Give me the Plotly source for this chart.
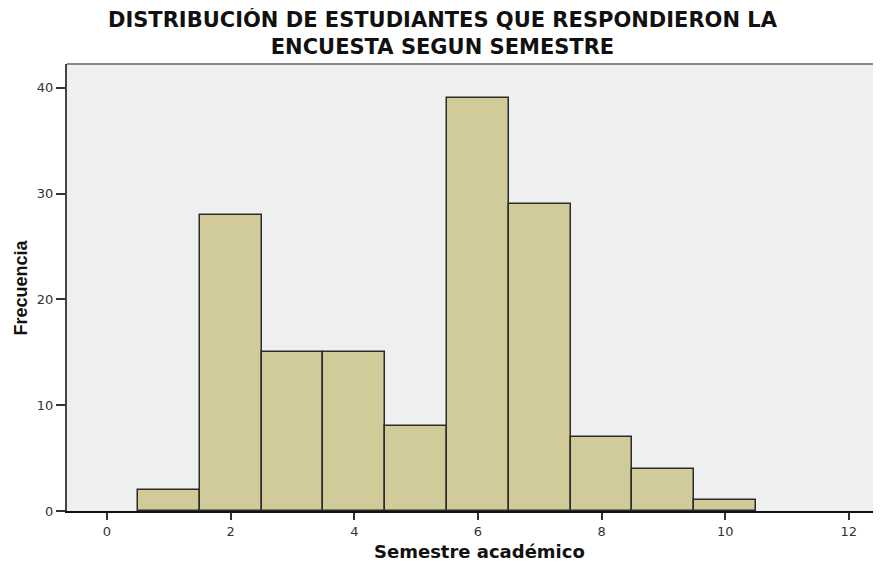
import plotly.graph_objects as go

# Frequency of survey respondents per academic semester
semestre = [1, 2, 3, 4, 5, 6, 7, 8, 9, 10]
frecuencia = [2, 28, 15, 15, 8, 39, 29, 7, 4, 1]

x_ticks = [0, 2, 4, 6, 8, 10, 12]
y_ticks = [0, 10, 20, 30, 40]

BAR_FILL = "#d0cb98"
PLOT_BG = "#eef0ef"
EDGE = "#2b2b2b"

fig = go.Figure(
    go.Bar(
        x=semestre,
        y=frecuencia,
        width=1,
        marker={"color": BAR_FILL, "line": {"color": EDGE, "width": 1.5}},
        hovertemplate="Semestre %{x}: %{y}<extra></extra>",
    )
)

# page body has an 8px margin, so the figure is sized to fit the window
fig.update_layout(
    width=873,
    height=554,
    margin={"l": 59, "r": 0, "t": 56, "b": 51},
    paper_bgcolor="white",
    plot_bgcolor=PLOT_BG,
    showlegend=False,
    font={"family": "DejaVu Sans", "size": 13, "color": "#222"},
    bargap=0,
)

axis_style = dict(
    ticks="outside",
    tickwidth=1.5,
    tickcolor="#333",
    showgrid=False,
    zeroline=False,
    showline=True,
    linewidth=2,
    tickfont={"family": "DejaVu Sans", "size": 13, "color": "#333"},
)
fig.update_xaxes(range=[-0.647, 12.52], tickvals=x_ticks, ticklen=7,
                 linecolor="#111", **axis_style)
fig.update_yaxes(range=[0, 42.25], tickvals=y_ticks, ticklen=9,
                 linecolor="#444", **axis_style)

# top border of the plot frame
fig.add_shape(
    type="line", xref="paper", yref="paper",
    x0=0, x1=1, y0=1, y1=1,
    line={"color": "#888", "width": 2},
)

fig.add_annotation(
    text="<b>DISTRIBUCIÓN DE ESTUDIANTES QUE RESPONDIERON LA<br>"
         "ENCUESTA SEGUN SEMESTRE</b>",
    xref="paper", yref="paper", x=0.4625, y=1, yshift=31,
    xanchor="center", yanchor="middle", showarrow=False,
    font={"family": "DejaVu Sans", "size": 21, "color": "#111"},
)

# axis titles
fig.add_annotation(
    text="<b>Semestre académico</b>",
    xref="paper", yref="paper", x=0.507, y=0, yshift=-40,
    xanchor="center", yanchor="middle", showarrow=False,
    font={"family": "DejaVu Sans", "size": 18, "color": "#111"},
)
fig.add_annotation(
    text="<b>Frecuencia</b>",
    xref="paper", yref="paper", x=0, y=0.5, xshift=-47, textangle=-90,
    xanchor="center", yanchor="middle", showarrow=False,
    font={"family": "Liberation Sans", "size": 18, "color": "#111"},
)

fig.write_html("out.html")
